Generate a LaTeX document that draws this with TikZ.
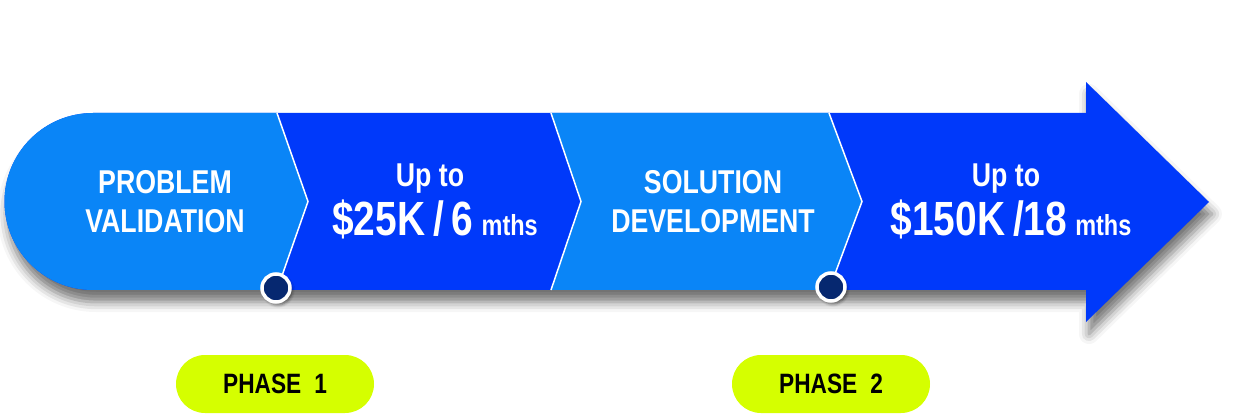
\documentclass[tikz,border=0pt]{standalone}
\usepackage{fontspec}
\newfontfamily\condfont{Liberation Sans}[FakeStretch=0.81]
\usetikzlibrary{shadows.blur}
\definecolor{lightseg}{RGB}{10,133,247}
\definecolor{darkseg}{RGB}{0,57,250}
\definecolor{navydot}{RGB}{6,40,112}
\definecolor{phasegreen}{RGB}{213,255,0}
\begin{document}
\begin{tikzpicture}[x=1pt,y=-1pt,
  label node/.style={text=white,font=\condfont\bfseries\fontsize{33}{39}\selectfont,align=center},
  upto node/.style={text=white,font=\condfont\bfseries\fontsize{33}{39}\selectfont,anchor=base},
  amount node/.style={text=white,font=\condfont\bfseries\fontsize{48}{52}\selectfont,anchor=base},
  phase node/.style={fill=phasegreen,rounded corners=29pt,minimum width=198pt,minimum height=58pt,
    font=\condfont\bfseries\fontsize{28}{32}\selectfont},
  marker dot/.style={circle,draw=white,line width=3.5pt,fill=navydot,minimum size=28pt,inner sep=0pt,
    blur shadow={shadow xshift=2pt,shadow yshift=-3pt,shadow blur radius=3pt,shadow opacity=50}},
  chevron/.style={draw=white,line width=1.5pt}]

  \useasboundingbox (0,0) rectangle (1243,414);

  % band and arrow head
  \fill[darkseg,blur shadow={shadow xshift=3pt,shadow yshift=-12pt,shadow blur radius=10pt,shadow opacity=55}]
    (93,113) -- (1086,113) -- (1086,82) -- (1209,202) -- (1086,322) -- (1086,290) -- (93,290)
    arc[start angle=90,end angle=270,radius=88.5] -- cycle;
  \fill[lightseg] (93,113) -- (277,113) -- (308,201.5) -- (277,290) -- (93,290)
    arc[start angle=90,end angle=270,radius=88.5] -- cycle;
  \fill[lightseg] (551,113) -- (829,113) -- (862,201.5) -- (829,290) -- (551,290) -- (581,201.5) -- cycle;
  \draw[chevron] (277,113) -- (308,201.5) -- (277,290);
  \draw[chevron] (551,113) -- (581,201.5) -- (551,290);
  \draw[chevron] (829,113) -- (862,201.5) -- (829,290);

  \node[label node] (problem) at (165,201.5) {PROBLEM\\VALIDATION};
  \node[upto node] (upto1) at (430,187) {Up to};
  \node[amount node] (amount1) at (435,236) {\$25K\,/\,6\,{\fontsize{29}{30}\selectfont mths}};
  \node[label node] (solution) at (713,202) {SOLUTION\\DEVELOPMENT};
  \node[upto node] (upto2) at (1006,187) {Up to};
  \node[amount node] (amount2) at (1011,236) {\$150K\,/18\,{\fontsize{29}{30}\selectfont mths}};

  \node[marker dot] (dot1) at (276,288) {};
  \node[marker dot] (dot2) at (831,287) {};

  \node[phase node] (phase1) at (275,384) {PHASE\hspace{13pt}1};
  \node[phase node] (phase2) at (831,384) {PHASE\hspace{13pt}2};
\end{tikzpicture}
\end{document}
